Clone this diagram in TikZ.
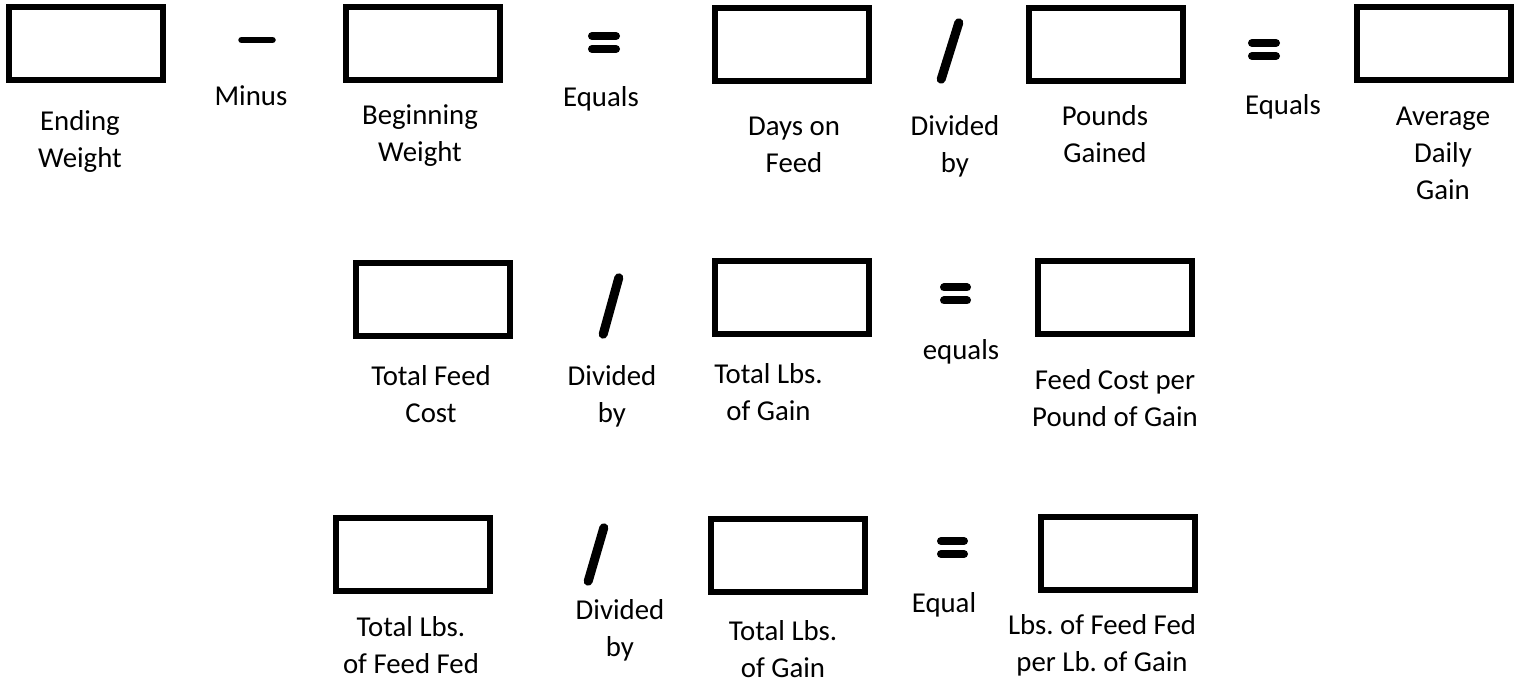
\documentclass[tikz,border=0pt]{standalone}
\usepackage{fontspec}
\setmainfont{Carlito}
\frenchspacing
\begin{document}
\begin{tikzpicture}[x=0.5pt,y=-0.5pt,
  valbox/.style={draw, line width=3pt, minimum width=77pt, minimum height=36.5pt, inner sep=0pt},
  lbl/.style={align=center, anchor=base, inner sep=0pt, font=\fontsize{14.4}{18.5}\selectfont},
  opbar/.style={line width=4pt, line cap=round},
  minusbar/.style={line width=3.25pt, line cap=round},
  slashline/.style={line width=4.5pt, line cap=round}]
\useasboundingbox (0,0) rectangle (1522,683);
% boxes
\node[valbox] (b1) at (86,43.5) {};
\node[valbox] (b2) at (423,44) {};
\node[valbox] (b3) at (791.5,44.5) {};
\node[valbox] (b4) at (1106,45) {};
\node[valbox] (b5) at (1433.5,44) {};
\node[valbox] (b6) at (432.5,299.5) {};
\node[valbox] (b7) at (791.5,297.5) {};
\node[valbox] (b8) at (1115,297.5) {};
\node[valbox] (b9) at (413,555) {};
\node[valbox] (b10) at (787.5,555.5) {};
\node[valbox] (b11) at (1117.5,553.5) {};
% operators
\draw[minusbar] (241.5,40) -- (272.5,40);
\draw[opbar] (592,36) -- (616,36);
\draw[opbar] (592,49) -- (616,49);
\draw[slashline] (941.2,79.2) -- (958.8,22.8);
\draw[opbar] (1252,43) -- (1276,43);
\draw[opbar] (1252,56) -- (1276,56);
\draw[slashline] (603.2,334.2) -- (618.8,277.8);
\draw[opbar] (944,287.5) -- (967,287.5);
\draw[opbar] (944,300.5) -- (967,300.5);
\draw[slashline] (588.2,581.2) -- (603.8,527.8);
\draw[opbar] (941,541) -- (964,541);
\draw[opbar] (941,554) -- (964,554);
% labels (anchor = baseline of last line)
\node[lbl] (t1) at (80,168) {Ending\\Weight};
\node[lbl] (t2) at (251,106) {Minus};
\node[lbl] (t3) at (420,162) {Beginning\\Weight};
\node[lbl] (t4) at (601,107) {Equals};
\node[lbl] (t5) at (794,173) {Days on\\Feed};
\node[lbl] (t6) at (955,173) {Divided\\by};
\node[lbl] (t7) at (1105,163) {Pounds\\Gained};
\node[lbl] (t8) at (1283,115) {Equals};
\node[lbl] (t9) at (1443,200) {Average\\Daily\\Gain};
\node[lbl] (t10) at (431,423) {Total Feed\\Cost};
\node[lbl] (t11) at (612,423) {Divided\\by};
\node[lbl] (t12) at (768.5,421) {Total Lbs.\\of Gain};
\node[lbl] (t13) at (961,360) {equals};
\node[lbl] (t14) at (1115,427) {Feed Cost per\\Pound of Gain};
\node[lbl] (t15) at (411,674) {Total Lbs.\\of Feed Fed};
\node[lbl] (t16) at (620,657) {Divided\\by};
\node[lbl] (t17) at (783,678) {Total Lbs.\\of Gain};
\node[lbl] (t18) at (944,613) {Equal};
\node[lbl] (t19) at (1102,672) {Lbs. of Feed Fed\\per Lb. of Gain};
\end{tikzpicture}
\end{document}
